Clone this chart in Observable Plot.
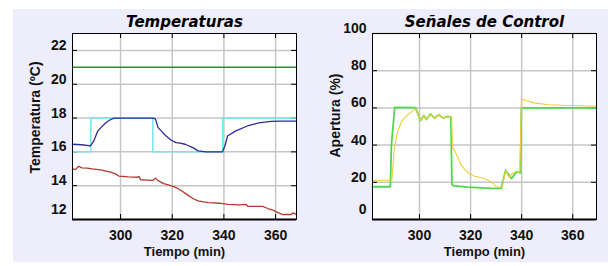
<!DOCTYPE html>
<html><head><meta charset="utf-8">
<script src="https://cdn.jsdelivr.net/npm/d3@7"></script>
<script src="https://cdn.jsdelivr.net/npm/@observablehq/plot@0.6"></script>
<style>
html,body{margin:0;padding:0;background:#fff;}
#wrap{position:relative;width:608px;height:266px;overflow:hidden;}
#bg{position:absolute;left:13px;top:9px;width:595px;height:253px;background:#ededfb;}
.panel{position:absolute;top:0;}
</style></head><body>
<div id="wrap"><div id="bg"></div><div id="p1" class="panel" style="left:0"></div><div id="p2" class="panel" style="left:304px"></div></div>
<script>
// ---- ticks / labels
const timeTicks = [300, 320, 340, 360];
const tempTicks = [14, 16, 18, 20, 22];
const tempBottomTick = [12];
const ctrlTicks = [20, 40, 60, 80, 100];
const ctrlBottomTick = [0];
const titleTemp = "Temperaturas";
const titleCtrl = "Señales de Control";
const xLabel = "Tiempo (min)";
const yLabelTemp = "Temperatura (ºC)";
const yLabelCtrl = "Apertura (%)";

// ---- left panel series
const refT = [281.4, 368.1];
const refV = [21, 21];
const setT = [281.4, 288.5, 288.5, 312.5, 312.5, 339.5, 339.5, 368.1];
const setV = [16, 16, 18, 18, 16, 16, 18, 18];
const inT = [281.4, 285, 288.3, 289.5, 291.2, 292.5, 294.3, 296, 297.6, 312.5, 313.5, 314.5, 316, 317.5, 319.5, 321.5, 323, 325, 328, 330, 333, 339.5, 340.5, 341.4, 344.6, 349.1, 353.5, 358.2, 362, 368];
const inV = [16.45, 16.42, 16.35, 16.6, 17.24, 17.45, 17.72, 17.9, 18.0, 18.0, 17.95, 17.45, 17.2, 16.95, 16.7, 16.55, 16.52, 16.45, 16.25, 16.06, 16.0, 16.0, 16.4, 16.94, 17.24, 17.53, 17.72, 17.8, 17.82, 17.82];
const outT = [281.4, 282.5, 283.8, 285, 287.2, 289, 292.3, 294, 296.2, 298, 299.3, 301, 303, 305.1, 306.5, 307.1, 307.8, 310, 312.5, 313.6, 314.5, 316.7, 318.5, 320.2, 322, 323.3, 325.5, 328, 330, 332.2, 334, 336.1, 338, 339.6, 341.5, 343.8, 346, 348.5, 349.2, 352, 355, 357, 359, 360.9, 362.9, 364.5, 366, 366.7, 367.8];
const outV = [15.0, 14.95, 15.15, 15.05, 15.04, 15.0, 14.94, 14.88, 14.8, 14.7, 14.57, 14.55, 14.52, 14.51, 14.5, 14.55, 14.35, 14.33, 14.31, 14.45, 14.3, 14.12, 14.05, 13.96, 13.85, 13.73, 13.5, 13.24, 13.1, 13.04, 13.0, 12.98, 12.96, 12.94, 12.9, 12.88, 12.86, 12.9, 12.78, 12.78, 12.78, 12.65, 12.55, 12.41, 12.29, 12.3, 12.29, 12.39, 12.32];

// ---- right panel series
const ctrlT = [281.6, 288.6, 289.0, 290.3, 298.4, 300.4, 301.7, 302.7, 304.3, 305.9, 307.5, 309.3, 311.1, 312.3, 312.7, 313.2, 318.8, 328.6, 332.0, 333.7, 336.0, 338.0, 339.5, 339.9, 369.3];
const ctrlV = [17.6, 17.6, 40, 60.3, 60.2, 53.2, 55.9, 53.8, 56.8, 54.5, 56.3, 54.5, 55.4, 55, 19, 18.2, 17.4, 16.7, 16.7, 26.5, 22, 25.6, 25.1, 60, 60];
const valveT = [281.6, 289.2, 290.0, 291.3, 293.2, 295.8, 298.4, 300.4, 301.7, 302.7, 304.3, 305.9, 307.5, 309.3, 311.1, 312.6, 312.9, 314.3, 316.3, 318.9, 321.5, 325.4, 328.7, 330.0, 332.4, 333.7, 335.0, 336.3, 337.6, 339.3, 339.9, 341.5, 344.7, 350.6, 359.1, 369.3];
const valveV = [21.1, 21.1, 36.2, 46.9, 53.2, 56.8, 59.5, 53.2, 55.9, 53.8, 56.8, 54.5, 56.3, 54.5, 55.4, 55, 39, 35.5, 29.2, 25.1, 23.3, 22, 19.7, 17.6, 17.4, 26.3, 22.7, 24.6, 25.8, 25.4, 64.9, 64, 62.7, 61.7, 61.3, 60.9];

const zip = (t, v) => t.map((d, i) => ({t: d, v: v[i]}));

const SANS = "'Liberation Sans', Arial, sans-serif";
const TITLEF = "'DejaVu Sans', Verdana, sans-serif";

function panel({mL, mR, xDomain, yDomain, yTicks, yBottom, title, yLabel, yLabelDy, series}) {
  const W = 304 - mL - mR, H = 186;
  return Plot.plot({
    width: 304, height: 266,
    marginLeft: mL, marginRight: mR, marginTop: 33, marginBottom: 47,
    x: {domain: xDomain, axis: null},
    y: {domain: yDomain, axis: null},
    style: {background: "transparent", fontFamily: SANS, overflow: "visible"},
    marks: [
      Plot.frame({fill: "white", stroke: null}),
      Plot.gridX(timeTicks, {stroke: "#c6c6c6", strokeOpacity: 1, strokeWidth: 1.5}),
      Plot.gridY(yTicks, {stroke: "#c6c6c6", strokeOpacity: 1, strokeWidth: 1.5}),
      Plot.tickY(yTicks, {y: d => d, insetRight: W - 5, stroke: "#000"}),
      Plot.tickY(yTicks, {y: d => d, insetLeft: W - 5, stroke: "#000"}),
      Plot.tickX(timeTicks, {x: d => d, insetBottom: H - 5, stroke: "#000"}),
      Plot.tickX(timeTicks, {x: d => d, insetTop: H - 5, stroke: "#000"}),
      ...series.map(s => Plot.line(zip(s.t, s.v), {x: "t", y: "v", stroke: s.color, strokeWidth: s.w, curve: "linear"})),
      Plot.frame({stroke: "#000", strokeWidth: 1}),
      Plot.ruleY([yDomain[0]], {stroke: "#000", strokeWidth: 2}),
      Plot.axisX(timeTicks, {tickSize: 0, tickPadding: 11, fontSize: 14, fontWeight: "bold", fill: "#111", label: null}),
      Plot.axisY(yTicks, {tickSize: 0, tickPadding: 6, dy: -5, fontSize: 14, fontWeight: "bold", fill: "#111", label: null}),
      Plot.axisY(yBottom, {tickSize: 0, tickPadding: 6, dy: -10, fontSize: 14, fontWeight: "bold", fill: "#111", label: null}),
      Plot.text([title], {text: d => d, frameAnchor: "top", dy: -17, fontFamily: TITLEF, fontWeight: "bold", fontStyle: "italic", fontSize: 15, fill: "#000"}),
      Plot.text([xLabel], {text: d => d, frameAnchor: "bottom", dy: 36, fontWeight: "bold", fontSize: 13, fill: "#111"}),
      Plot.text([yLabel], {text: d => d, frameAnchor: "left", textAnchor: "middle", rotate: -90, dx: -37, dy: yLabelDy, fontWeight: "bold", fontSize: 14, fill: "#111"})
    ]
  });
}

document.getElementById("p1").appendChild(panel({
  mL: 72, mR: 8,
  xDomain: [281.4, 368.1], yDomain: [12, 23], yTicks: tempTicks, yBottom: tempBottomTick,
  title: titleTemp, yLabel: yLabelTemp, yLabelDy: -9,
  series: [
    {t: refT, v: refV, color: "#2f8a2f", w: 1.5},
    {t: setT, v: setV, color: "#74e6ee", w: 1.5},
    {t: inT, v: inV, color: "#2b2b9a", w: 1.3},
    {t: outT, v: outV, color: "#b23a2c", w: 1.3}
  ]
}));
document.getElementById("p2").appendChild(panel({
  mL: 68, mR: 12,
  xDomain: [281.6, 369.3], yDomain: [0, 100], yTicks: ctrlTicks, yBottom: ctrlBottomTick,
  title: titleCtrl, yLabel: yLabelCtrl, yLabelDy: -11,
  series: [
    {t: ctrlT, v: ctrlV, color: "#4fd84f", w: 1.8},
    {t: valveT, v: valveV, color: "#f0cc3c", w: 1.1}
  ]
}));
</script>
</body></html>
